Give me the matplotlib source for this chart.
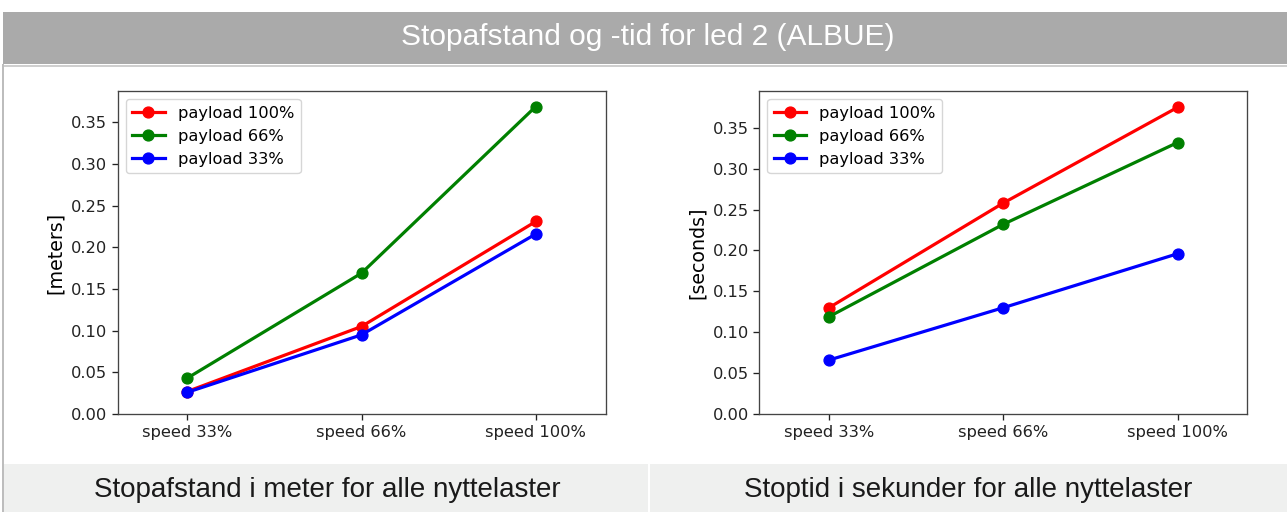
import numpy as np
import matplotlib
matplotlib.use("Agg")
import matplotlib.pyplot as plt
from matplotlib.patches import Rectangle

# Stop distance / stop time for joint 2 (elbow)
speeds = ["speed 33%", "speed 66%", "speed 100%"]
payloads = ["payload 100%", "payload 66%", "payload 33%"]
colors = ["red", "green", "blue"]

dist_100 = [0.027, 0.105, 0.231]
dist_66 = [0.043, 0.169, 0.369]
dist_33 = [0.026, 0.095, 0.216]

time_100 = [0.130, 0.258, 0.375]
time_66 = [0.119, 0.232, 0.332]
time_33 = [0.066, 0.130, 0.196]

W, H = 1287, 512
fig = plt.figure(figsize=(W / 100, H / 100), dpi=100)
fig.patch.set_facecolor("white")


def px_rect(x, y, w, h, **kw):
    # rectangle in pixel coords measured from the top-left corner
    r = Rectangle((x / W, 1 - (y + h) / H), w / W, h / H,
                  transform=fig.transFigure, **kw)
    fig.patches.append(r)


def px_ax(x, y, w, h):
    return fig.add_axes([x / W, 1 - (y + h) / H, w / W, h / H])


# header bar and panel frame
px_rect(3, 12, W - 3, 52, facecolor="#aaaaaa", edgecolor="none")
px_rect(3, 65, W - 3, 1.5, facecolor="#cfcfcf", edgecolor="none")
px_rect(2, 64, 1.5, H - 64, facecolor="#bdbdbd", edgecolor="none")
px_rect(3.5, 464, 644, 48, facecolor="#eff0ef", edgecolor="none")
px_rect(650, 464, W - 650, 48, facecolor="#eff0ef", edgecolor="none")

fig.text(648 / W, 1 - 37 / H, "Stopafstand og -tid for led 2 (ALBUE)",
         ha="center", va="center", color="white", fontsize=21.5,
         family="Liberation Sans")
fig.text(327 / W, 1 - 490 / H, "Stopafstand i meter for alle nyttelaster",
         ha="center", va="center", color="#1a1a1a", fontsize=20,
         family="Liberation Sans")
fig.text(968 / W, 1 - 490 / H, "Stoptid i sekunder for alle nyttelaster",
         ha="center", va="center", color="#1a1a1a", fontsize=20,
         family="Liberation Sans")

x = np.arange(len(speeds))


def draw(ax, series, ylabel, ytop):
    for vals, name, c in zip(series, payloads, colors):
        ax.plot(x, vals, color=c, marker="o", lw=2.3, ms=7.8, label=name)
    ax.set_xticks(x)
    ax.set_xticklabels(speeds)
    ax.set_xlim(-0.4, 2.4)
    ax.set_ylim(0, ytop)
    ax.set_yticks(np.arange(0, 0.36, 0.05))
    ax.set_ylabel(ylabel, fontsize=13.7)
    ax.tick_params(labelsize=11.7, length=4.1, width=0.95, colors="#222222")
    for s in ax.spines.values():
        s.set_linewidth(0.95)
        s.set_color("#444444")
    ax.legend(loc="upper left", fontsize=11.7)


ax1 = px_ax(117.5, 91, 488, 323)
draw(ax1, [dist_100, dist_66, dist_33], "[meters]", 0.3876)

ax2 = px_ax(759.3, 91, 488, 323)
draw(ax2, [time_100, time_66, time_33], "[seconds]", 0.395)

fig.savefig("out.png", dpi=100)
